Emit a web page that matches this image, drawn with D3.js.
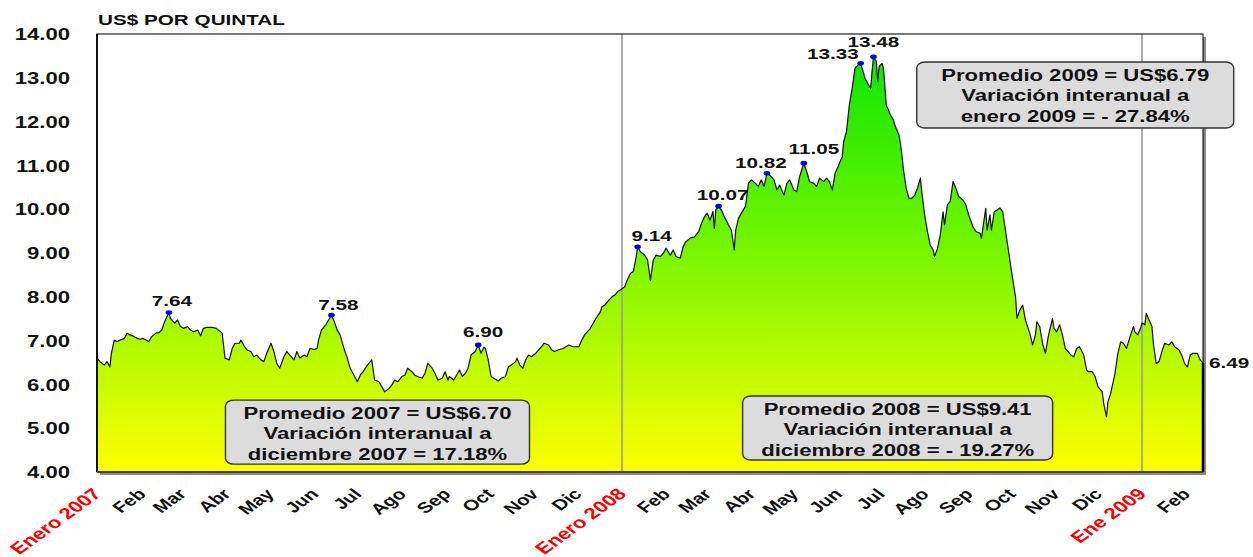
<!DOCTYPE html>
<html><head><meta charset="utf-8">
<script src="https://cdn.jsdelivr.net/npm/d3@7"></script>
<style>
html,body{margin:0;padding:0;background:#fff;}
svg{display:block;font-family:"Liberation Sans",Arial,sans-serif;font-weight:bold;}
</style></head><body>
<svg id="chart" width="1253" height="557"></svg>
<script>
// ---------------- DATA ----------------
const dates = [
"2007-01-01","2007-01-03","2007-01-06","2007-01-08","2007-01-10","2007-01-11","2007-01-13","2007-01-15","2007-01-17","2007-01-20",
"2007-01-22","2007-01-24","2007-01-27","2007-01-29","2007-01-31","2007-02-02","2007-02-06","2007-02-08","2007-02-11","2007-02-13",
"2007-02-15","2007-02-17","2007-02-20","2007-02-21","2007-02-24","2007-02-26","2007-02-28","2007-03-02","2007-03-05","2007-03-07",
"2007-03-09","2007-03-12","2007-03-14","2007-03-16","2007-03-18","2007-03-22","2007-03-25","2007-03-29","2007-03-31","2007-04-03",
"2007-04-05","2007-04-07","2007-04-10","2007-04-11","2007-04-13","2007-04-15","2007-04-18","2007-04-20","2007-04-22","2007-04-25",
"2007-04-27","2007-04-29","2007-05-02","2007-05-04","2007-05-06","2007-05-08","2007-05-11","2007-05-13","2007-05-15","2007-05-18",
"2007-05-20","2007-05-22","2007-05-25","2007-05-27","2007-05-29","2007-06-01","2007-06-03","2007-06-04","2007-06-06","2007-06-09",
"2007-06-11","2007-06-13","2007-06-15","2007-06-17","2007-06-19","2007-06-22","2007-06-24","2007-06-26","2007-06-28","2007-07-01",
"2007-07-03","2007-07-05","2007-07-08","2007-07-11","2007-07-13","2007-07-16","2007-07-18","2007-07-20","2007-07-23","2007-07-25",
"2007-07-27","2007-07-29","2007-08-01","2007-08-03","2007-08-05","2007-08-08","2007-08-10","2007-08-12","2007-08-15","2007-08-17",
"2007-08-19","2007-08-22","2007-08-24","2007-08-26","2007-08-29","2007-08-31","2007-09-02","2007-09-03","2007-09-06","2007-09-08",
"2007-09-10","2007-09-12","2007-09-14","2007-09-16","2007-09-18","2007-09-21","2007-09-23","2007-09-25","2007-09-27","2007-09-28",
"2007-09-30","2007-10-02","2007-10-05","2007-10-07","2007-10-09","2007-10-12","2007-10-14","2007-10-16","2007-10-19","2007-10-20",
"2007-10-22","2007-10-24","2007-10-26","2007-10-28","2007-10-30","2007-11-02","2007-11-04","2007-11-06","2007-11-08","2007-11-11",
"2007-11-13","2007-11-15","2007-11-18","2007-11-21","2007-11-25","2007-11-28","2007-12-02","2007-12-04","2007-12-06","2007-12-10",
"2007-12-12","2007-12-14","2007-12-17","2007-12-18","2007-12-20","2007-12-23","2007-12-25","2007-12-27","2007-12-29","2007-12-31",
"2008-01-03","2008-01-04","2008-01-07","2008-01-09","2008-01-11","2008-01-12","2008-01-14","2008-01-17","2008-01-19","2008-01-21",
"2008-01-23","2008-01-25","2008-01-28","2008-01-30","2008-02-01","2008-02-04","2008-02-06","2008-02-08","2008-02-11","2008-02-13",
"2008-02-15","2008-02-18","2008-02-21","2008-02-24","2008-02-26","2008-02-28","2008-03-01","2008-03-03","2008-03-05","2008-03-06",
"2008-03-07","2008-03-09","2008-03-11","2008-03-13","2008-03-16","2008-03-18","2008-03-20","2008-03-21","2008-03-23","2008-03-25",
"2008-03-28","2008-03-30","2008-04-01","2008-04-04","2008-04-06","2008-04-08","2008-04-10","2008-04-12","2008-04-14","2008-04-17",
"2008-04-19","2008-04-21","2008-04-24","2008-04-26","2008-04-28","2008-05-01","2008-05-03","2008-05-05","2008-05-08","2008-05-10",
"2008-05-12","2008-05-15","2008-05-17","2008-05-19","2008-05-22","2008-05-24","2008-05-26","2008-05-28","2008-05-30","2008-06-01",
"2008-06-02","2008-06-04","2008-06-05","2008-06-07","2008-06-09","2008-06-11","2008-06-13","2008-06-15","2008-06-17","2008-06-18",
"2008-06-20","2008-06-22","2008-06-24","2008-06-25","2008-06-26","2008-06-28","2008-06-29","2008-06-30","2008-07-02","2008-07-03",
"2008-07-04","2008-07-05","2008-07-08","2008-07-10","2008-07-11","2008-07-14","2008-07-15","2008-07-16","2008-07-17","2008-07-19",
"2008-07-21","2008-07-23","2008-07-25","2008-07-27","2008-07-29","2008-07-30","2008-08-01","2008-08-03","2008-08-05","2008-08-07",
"2008-08-08","2008-08-10","2008-08-12","2008-08-14","2008-08-15","2008-08-17","2008-08-19","2008-08-21","2008-08-23","2008-08-25",
"2008-08-28","2008-08-30","2008-09-01","2008-09-04","2008-09-06","2008-09-09","2008-09-10","2008-09-12","2008-09-13","2008-09-14",
"2008-09-16","2008-09-17","2008-09-19","2008-09-21","2008-09-23","2008-09-25","2008-09-27","2008-09-30","2008-10-01","2008-10-04",
"2008-10-05","2008-10-07","2008-10-09","2008-10-11","2008-10-12","2008-10-14","2008-10-16","2008-10-18","2008-10-19","2008-10-21",
"2008-10-23","2008-10-25","2008-10-27","2008-10-30","2008-10-31","2008-11-02","2008-11-04","2008-11-06","2008-11-08","2008-11-10",
"2008-11-12","2008-11-14","2008-11-16","2008-11-18","2008-11-21","2008-11-23","2008-11-24","2008-11-27","2008-11-29","2008-12-01",
"2008-12-04","2008-12-05","2008-12-07","2008-12-08","2008-12-10","2008-12-13","2008-12-15","2008-12-17","2008-12-19","2008-12-21",
"2008-12-24","2008-12-26","2008-12-27","2008-12-29","2008-12-31","2009-01-01","2009-01-03","2009-01-04","2009-01-06","2009-01-08",
"2009-01-09","2009-01-11","2009-01-13","2009-01-15","2009-01-17","2009-01-20","2009-01-22","2009-01-24","2009-01-27","2009-01-29",
"2009-01-31","2009-02-02","2009-02-04","2009-02-06","2009-02-09","2009-02-11","2009-02-13"
];
const prices = [
6.60,6.52,6.44,6.52,6.40,6.71,7.01,6.98,7.01,7.05,
7.17,7.13,7.09,7.05,7.03,7.05,6.98,7.09,7.17,7.18,
7.24,7.43,7.64,7.51,7.40,7.47,7.32,7.28,7.32,7.24,
7.20,7.24,7.11,7.28,7.30,7.30,7.28,7.17,6.60,6.56,
6.82,6.94,6.94,7.01,6.90,6.79,6.75,6.63,6.67,6.56,
6.52,6.71,6.94,6.75,6.48,6.37,6.63,6.75,6.67,6.56,
6.75,6.60,6.67,6.63,6.82,6.80,6.82,7.01,7.24,7.36,
7.47,7.58,7.43,7.24,7.13,6.79,6.60,6.37,6.25,6.06,
6.21,6.29,6.44,6.56,6.10,6.06,5.95,5.83,5.91,5.99,
6.10,6.06,6.18,6.21,6.37,6.29,6.21,6.18,6.14,6.25,
6.48,6.37,6.25,6.10,6.14,6.29,6.10,6.18,6.10,6.21,
6.33,6.18,6.25,6.37,6.67,6.75,6.90,6.71,6.85,6.82,
6.56,6.18,6.12,6.08,6.14,6.18,6.40,6.44,6.52,6.60,
6.44,6.37,6.56,6.67,6.63,6.71,6.79,6.86,6.94,6.90,
6.79,6.75,6.79,6.82,6.90,6.86,6.86,7.01,7.13,7.28,
7.40,7.51,7.66,7.77,7.81,7.93,8.00,8.04,8.12,8.16,
8.23,8.33,8.54,8.58,8.92,9.14,9.03,8.95,8.84,8.38,
8.84,8.95,8.92,8.99,9.11,8.95,9.07,8.92,8.88,9.14,
9.26,9.34,9.37,9.49,9.68,9.83,9.91,9.75,9.95,9.56,
9.98,10.07,9.98,9.83,9.64,9.52,9.07,9.52,9.79,9.91,
10.07,10.59,10.67,10.59,10.52,10.67,10.52,10.82,10.78,10.67,
10.44,10.55,10.32,10.59,10.67,10.44,10.40,10.74,11.05,10.86,
10.63,10.59,10.52,10.71,10.63,10.71,10.63,10.44,10.82,10.97,
11.05,11.20,11.54,11.77,12.38,12.76,13.22,13.29,13.33,13.22,
12.99,12.87,12.76,13.14,13.48,13.37,12.91,13.26,13.33,13.22,
12.83,12.38,12.15,12.04,11.92,11.69,11.50,11.24,10.93,10.48,
10.25,10.25,10.32,10.48,10.71,10.40,9.87,9.49,9.18,9.07,
8.92,9.10,9.41,9.94,9.64,10.10,10.18,10.63,10.48,10.29,
10.21,10.10,9.87,9.60,9.49,9.45,9.34,9.79,10.02,9.52,
9.87,9.52,9.94,9.98,10.03,9.94,9.49,8.84,8.61,8.00,
7.51,7.70,7.81,7.47,7.36,7.17,6.90,7.13,7.43,7.32,
6.94,6.71,7.09,7.51,7.28,7.20,7.36,7.13,6.82,6.75,
6.67,6.63,6.82,6.86,6.67,6.33,6.29,6.29,6.18,5.95,
5.83,5.57,5.26,5.60,5.80,6.25,6.71,6.97,6.94,6.82,
7.13,7.32,7.20,7.13,7.28,7.40,7.36,7.62,7.47,7.32,
6.94,6.48,6.52,6.75,6.94,6.90,6.97,6.86,6.79,6.67,
6.48,6.40,6.67,6.71,6.71,6.56,6.49
];
const yTicks = [4,5,6,7,8,9,10,11,12,13,14];
const monthLabels = ["Enero 2007","Feb","Mar","Abr","May","Jun","Jul","Ago","Sep","Oct","Nov","Dic",
  "Enero 2008","Feb","Mar","Abr","May","Jun","Jul","Ago","Sep","Oct","Nov","Dic","Ene 2009","Feb"];
const yearLines = ["2008-01-01","2009-01-01"];
const peakDates = ["2007-02-20","2007-06-13","2007-09-23","2008-01-12","2008-03-09","2008-04-12","2008-05-08","2008-06-17","2008-06-26"];
const lastDate = "2009-02-13";
const titleText = "US$ POR QUINTAL";
const boxTexts = [
  ["Promedio 2007 = US$6.70","Variación interanual a","diciembre 2007 = 17.18%"],
  ["Promedio 2008 = US$9.41","Variación interanual a","diciembre 2008 = - 19.27%"],
  ["Promedio 2009 = US$6.79","Variación interanual a","enero 2009 = - 27.84%"]
];

// ---------------- LAYOUT (not data) ----------------
const S = 1.38; // horizontal text stretch
const parse = d3.timeParse("%Y-%m-%d");
const data = dates.map((d,i)=>({date:parse(d), v:prices[i]}));
const svg = d3.select("#chart");

const x = d3.scaleTime()
  .domain([parse("2007-01-01"),parse("2008-01-01"),parse("2009-01-01"),parse(lastDate)])
  .range([97,622,1142,1203]);
const y = d3.scaleLinear().domain([4,14]).range([472,34]);
const [X0,X1] = [x.range()[0], x.range()[3]];
const [Y0,Y1] = [y(4), y(14)];

// gradient
const defs = svg.append("defs");
const grad = defs.append("linearGradient").attr("id","fillG")
  .attr("gradientUnits","userSpaceOnUse").attr("x1",0).attr("x2",0).attr("y1",Y1).attr("y2",Y0);
grad.append("stop").attr("offset","0%").attr("stop-color","#00e400");
grad.append("stop").attr("offset","50%").attr("stop-color","#78f600");
grad.append("stop").attr("offset","100%").attr("stop-color","#ffff00");

// shadow + plot background
svg.append("rect").attr("x",X0+3).attr("y",Y1+3).attr("width",X1-X0).attr("height",Y0-Y1).attr("fill","#8a8a8a");
svg.append("rect").attr("x",X0).attr("y",Y1).attr("width",X1-X0).attr("height",Y0-Y1).attr("fill","#fff");

// area
const area = d3.area().x(d=>x(d.date)).y0(Y0).y1(d=>y(d.v));
svg.append("path").datum(data).attr("d",area).attr("fill","url(#fillG)");

// year separator lines
svg.selectAll(".yl").data(yearLines).join("line")
  .attr("x1",d=>x(parse(d))).attr("x2",d=>x(parse(d)))
  .attr("y1",Y1).attr("y2",Y0).attr("stroke","#9a9a9a").attr("stroke-width",1.6);

// line
const line = d3.line().x(d=>x(d.date)).y(d=>y(d.v));
svg.append("path").datum(data).attr("d",line).attr("fill","none")
  .attr("stroke","#111").attr("stroke-width",1.2).attr("stroke-linejoin","round");

// frame
svg.append("rect").attr("x",X0).attr("y",Y1).attr("width",X1-X0).attr("height",Y0-Y1)
  .attr("fill","none").attr("stroke","#222").attr("stroke-width",1.2);
svg.append("line").attr("x1",X0).attr("x2",X0).attr("y1",Y1).attr("y2",Y0).attr("stroke","#111").attr("stroke-width",2);
svg.append("line").attr("x1",X0).attr("x2",X1).attr("y1",Y0).attr("y2",Y0).attr("stroke","#444").attr("stroke-width",2);
const lastPt = data[data.length-1];
svg.append("line").attr("x1",x(lastPt.date)).attr("x2",x(lastPt.date)).attr("y1",y(lastPt.v)).attr("y2",Y0)
  .attr("stroke","#000").attr("stroke-width",2.5);

// y axis
const yAxis = svg.append("g").attr("transform",`translate(${X0},0)`)
  .call(d3.axisLeft(y).tickValues(yTicks).tickFormat(d3.format(".2f")).tickSize(0));
yAxis.select(".domain").remove();
yAxis.selectAll("text").attr("x",-27/S).attr("dy","0.35em").attr("transform",`scale(${S},1)`)
  .attr("font-size",16).attr("font-family","Liberation Sans, Arial, sans-serif").attr("font-weight","bold").attr("fill","#111");

// x axis
const monthDates = d3.timeMonth.range(parse("2007-01-01"), d3.timeDay.offset(parse(lastDate),1));
const xAxis = svg.append("g").attr("transform",`translate(0,${Y0})`)
  .call(d3.axisBottom(x).tickValues(monthDates).tickFormat((d,i)=>monthLabels[i]).tickSize(0));
xAxis.select(".domain").remove();
xAxis.selectAll("text")
  .attr("x",0).attr("y",0).attr("dy",0)
  .attr("text-anchor","end")
  .attr("transform",`translate(5,23) scale(${S},1) rotate(-45)`)
  .attr("font-family","Liberation Sans, Arial, sans-serif").attr("font-weight","bold")
  .attr("font-size",(d,i)=>monthLabels[i].startsWith("En")?16:15)
  .attr("fill",(d,i)=>monthLabels[i].startsWith("En")?"#ff0000":"#111");

// title
svg.append("text").attr("transform",`translate(98,25) scale(${S},1)`)
  .attr("font-size",15).attr("fill","#111").text(titleText);

// peak dots + labels
const peakOffsets = [[3,-7,"middle"],[7,-5,"middle"],[5,-8,"middle"],[14,-6,"middle"],[4,-6,"middle"],
  [-6,-5,"middle"],[10,-9,"middle"],[-2,-4,"end"],[0,-10,"middle"]];
const peaks = peakDates.map(pd=>data.find(d=>+d.date===+parse(pd)));
svg.selectAll(".dot").data(peaks).join("ellipse")
  .attr("cx",d=>x(d.date)).attr("cy",d=>y(d.v)).attr("rx",3.3).attr("ry",2.4).attr("fill","#0000ff");
svg.selectAll(".plab").data(peaks).join("text")
  .attr("transform",(d,i)=>`translate(${x(d.date)+peakOffsets[i][0]},${y(d.v)+peakOffsets[i][1]}) scale(${S},1)`)
  .attr("text-anchor",(d,i)=>peakOffsets[i][2])
  .attr("font-size",15).attr("fill","#111").text(d=>d.v.toFixed(2));
svg.append("text")
  .attr("transform",`translate(${x(lastPt.date)+6},${y(lastPt.v)+5}) scale(${S},1)`)
  .attr("font-size",15).attr("fill","#111").text(lastPt.v.toFixed(2));

// annotation boxes (anchored through scales: centre date, top value)
const boxLayout = [
  {c:"2007-07-15", top:5.64, w:304, h:64},
  {c:"2008-07-13", top:5.735, w:310, h:64},
  {c:"2008-11-15", top:13.36, w:317, h:66}
];
boxLayout.forEach((b,i)=>{
  const cx = x(parse(b.c)), ty = y(b.top);
  const g = svg.append("g");
  g.append("rect").attr("x",cx-b.w/2).attr("y",ty).attr("width",b.w).attr("height",b.h)
    .attr("rx",8).attr("ry",6).attr("fill","#dcdcdc").attr("stroke","#333").attr("stroke-width",1.4);
  boxTexts[i].forEach((t,j)=>{
    g.append("text").attr("transform",`translate(${cx},${ty+18.5+j*20.5}) scale(${S},1)`)
      .attr("text-anchor","middle").attr("font-size",16).attr("fill","#111").text(t);
  });
});
</script>
</body></html>
